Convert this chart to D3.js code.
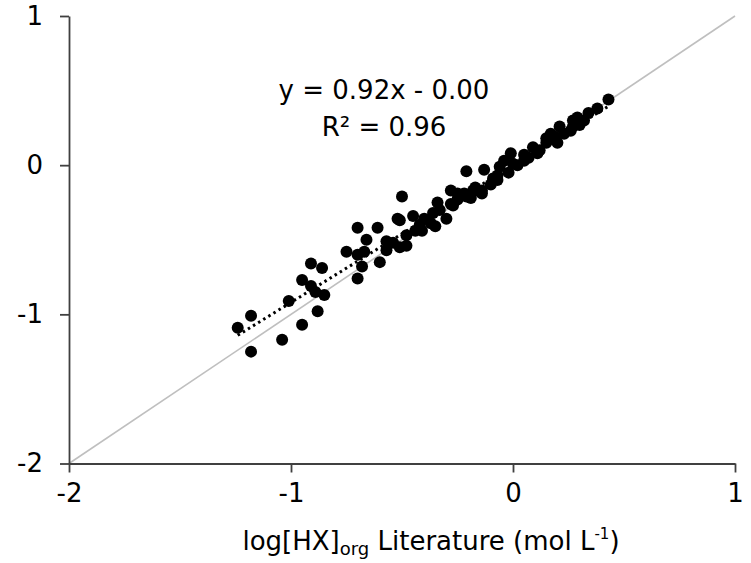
<!DOCTYPE html>
<html>
<head>
<meta charset="utf-8">
<script src="https://cdn.jsdelivr.net/npm/d3@7"></script>
<style>
  html, body { margin: 0; padding: 0; background: #fff; }
  svg text { font-family: "DejaVu Sans", sans-serif; fill: #000; }
</style>
</head>
<body>
<svg id="chart" width="751" height="563"></svg>
<script>
// literature log[HX]org (x) vs model (y)
const litValues = [
  -1.24, -1.18, -1.18, -1.04, -1.01, -0.95, -0.88, -0.85, -0.95, -0.91,
  -0.89, -0.91, -0.86, -0.70, -0.61, -0.66, -0.75, -0.70, -0.67, -0.68,
  -0.70, -0.60, -0.57, -0.54, -0.51, -0.45, -0.48, -0.51, -0.48, -0.44,
  -0.50, -0.41, -0.35, -0.36, -0.34, -0.37, -0.30, -0.28, -0.28, -0.25,
  -0.22, -0.18, -0.21, -0.13, -0.21, -0.16, -0.14, -0.10, -0.07, -0.06,
  -0.09, -0.07, -0.02, -0.01, 0.00, 0.02, 0.05, 0.05, 0.07, 0.09,
  0.11, 0.12, 0.15, 0.15, 0.17, 0.19, 0.20, 0.21, 0.23, 0.26,
  0.27, 0.27, 0.29, 0.30, 0.34, 0.32, 0.38, 0.43, -0.27, -0.25,
  -0.19, -0.17, -0.14, -0.33, -0.52, -0.42, -0.40, -0.04, -0.57
];
const modelValues = [
  -1.09, -1.01, -1.25, -1.17, -0.91, -1.07, -0.98, -0.87, -0.77, -0.81,
  -0.85, -0.66, -0.69, -0.42, -0.42, -0.50, -0.58, -0.60, -0.58, -0.68,
  -0.76, -0.65, -0.57, -0.52, -0.37, -0.34, -0.47, -0.55, -0.54, -0.44,
  -0.21, -0.44, -0.41, -0.32, -0.25, -0.39, -0.36, -0.17, -0.26, -0.23,
  -0.19, -0.17, -0.04, -0.03, -0.21, -0.17, -0.19, -0.13, -0.07, -0.01,
  -0.09, -0.10, -0.05, 0.08, 0.01, 0.00, 0.03, 0.07, 0.05, 0.12,
  0.08, 0.10, 0.15, 0.18, 0.21, 0.19, 0.15, 0.26, 0.21, 0.23,
  0.30, 0.26, 0.32, 0.27, 0.35, 0.30, 0.38, 0.44, -0.27, -0.19,
  -0.22, -0.15, -0.17, -0.30, -0.36, -0.40, -0.36, 0.03, -0.51
];
const axisTicks = [-2, -1, 0, 1];
const fitSlope = 0.92;
const fitIntercept = 0.00;
const eqLabels = ["y = 0.92x - 0.00", "R² = 0.96"];

const svg = d3.select('#chart');

const x = d3.scaleLinear().domain([-2, 1]).range([69, 735]);
const y = d3.scaleLinear().domain([-2, 1]).range([463.5, 16]);

// 1:1 line
svg.append('line')
  .attr('x1', x(-2)).attr('y1', y(-2))
  .attr('x2', x(1)).attr('y2', y(1))
  .attr('stroke', '#bfbfbf').attr('stroke-width', 1.6);

// axes
const tickFmt = d => String(d);
const xAxis = svg.append('g')
  .attr('transform', 'translate(0,' + y(-2) + ')')
  .call(d3.axisBottom(x).tickValues(axisTicks).tickFormat(tickFmt).tickSize(9).tickSizeOuter(0).tickPadding(11));
const yAxis = svg.append('g')
  .attr('transform', 'translate(' + x(-2) + ',0)')
  .call(d3.axisLeft(y).tickValues(axisTicks).tickFormat(tickFmt).tickSize(9).tickSizeOuter(0).tickPadding(17));

[xAxis, yAxis].forEach(g => {
  g.select('.domain').attr('stroke', '#404040').attr('stroke-width', 1.8);
  g.selectAll('.tick line').attr('stroke', '#404040').attr('stroke-width', 1.8);
  g.selectAll('.tick text').attr('font-size', 26).attr('font-family', '"DejaVu Sans", sans-serif').attr('fill', '#000');
});

// trend line over the data range
const xExtent = d3.extent(litValues);
svg.append('line')
  .attr('x1', x(xExtent[0])).attr('y1', y(fitSlope * xExtent[0] + fitIntercept))
  .attr('x2', x(xExtent[1])).attr('y2', y(fitSlope * xExtent[1] + fitIntercept))
  .attr('stroke', '#000').attr('stroke-width', 3)
  .attr('stroke-dasharray', '2.5,3.5');

// points
const points = litValues.map((v, i) => ({ x: v, y: modelValues[i] }));
svg.append('g').selectAll('circle').data(points).enter()
  .append('circle')
  .attr('cx', d => x(d.x))
  .attr('cy', d => y(d.y))
  .attr('r', 6)
  .attr('fill', '#000');

// equation
svg.append('text')
  .attr('x', 384).attr('y', 99)
  .attr('text-anchor', 'middle').attr('font-size', 26)
  .text(eqLabels[0]);
svg.append('text')
  .attr('x', 384).attr('y', 136)
  .attr('text-anchor', 'middle').attr('font-size', 26)
  .text(eqLabels[1]);

// axis title
const title = svg.append('text')
  .attr('x', 431).attr('y', 550)
  .attr('text-anchor', 'middle').attr('font-size', 26);
title.append('tspan').text('log[HX]');
title.append('tspan').attr('font-size', 18).attr('dy', 5).text('org');
title.append('tspan').attr('dy', -5).text(' Literature (mol L');
title.append('tspan').attr('font-size', 15).attr('dy', -11).text('-1');
title.append('tspan').attr('dy', 11).text(')');
</script>
</body>
</html>
